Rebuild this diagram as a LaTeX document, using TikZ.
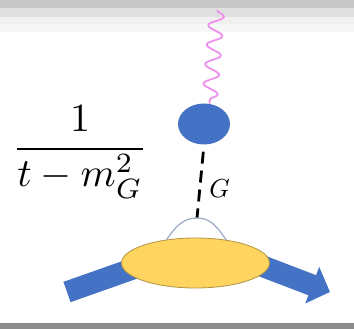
\documentclass[tikz,border=0pt]{standalone}
\usepackage{tikz}
\usetikzlibrary{arrows.meta,decorations.pathmorphing,shapes.geometric}
\definecolor{blobblue}{HTML}{4472C4}
\definecolor{blobyellow}{HTML}{FFD45F}
\definecolor{wavepink}{HTML}{EE90EE}
\definecolor{arcgray}{HTML}{9AA8C4}

\begin{document}
\begin{tikzpicture}[
x=1pt, y=-1pt,
blob/.style={draw, ellipse, inner sep=0pt},
band/.style={draw=none},
shaft/.style={blobblue, line width=21.5pt},
wave/.style={wavepink, line width=1.8pt, decorate, decoration={snake, segment length=19.5pt, amplitude=7.5pt}},
gluon/.style={line width=2.8pt, dash pattern=on 12pt off 7pt, dash phase=12pt}
]
\useasboundingbox (0,0) rectangle (354,329);
% window edges
\fill[band, fill=black!22] (0,0) rectangle (354,8);
\fill[band, fill=black!12] (0,8) rectangle (354,17);
\fill[band, fill=black!6] (0,17) rectangle (354,24);
\fill[band, fill=black!3] (0,24) rectangle (354,32);
\fill[band, fill=black!45] (0,323) rectangle (354,329);

\coordinate (in) at (67,292);
\coordinate (out) at (330,292);
\coordinate (top) at (217,10);
\coordinate (apex) at (197,218);

\draw[shaft] (in) -- (135,268);
\draw[shaft, -{Triangle[length=19pt, width=38pt]}] (262,266) -- (out);
\node[blob, fill=blobyellow, draw=black!30!blobyellow, line width=.8pt, minimum width=148pt, minimum height=50pt] (hadron) at (195.5,263) {};
\node[blob, fill=blobblue, draw=none, minimum width=52pt, minimum height=41pt] (vertex) at (204,124) {};

\draw[wave] (top) -- (vertex.75);
\draw[gluon] (vertex.south) -- (apex);
\draw[arcgray, line width=1.2pt] (hadron.141) to[out=55,in=180] (apex) to[out=0,in=125] (hadron.37);

\node[scale=4] (prop) at (80,152) {$\displaystyle\frac{1}{t-m_G^2}$};
\node[scale=2.6] (label) at (219.5,189) {$G$};
\end{tikzpicture}
\end{document}
